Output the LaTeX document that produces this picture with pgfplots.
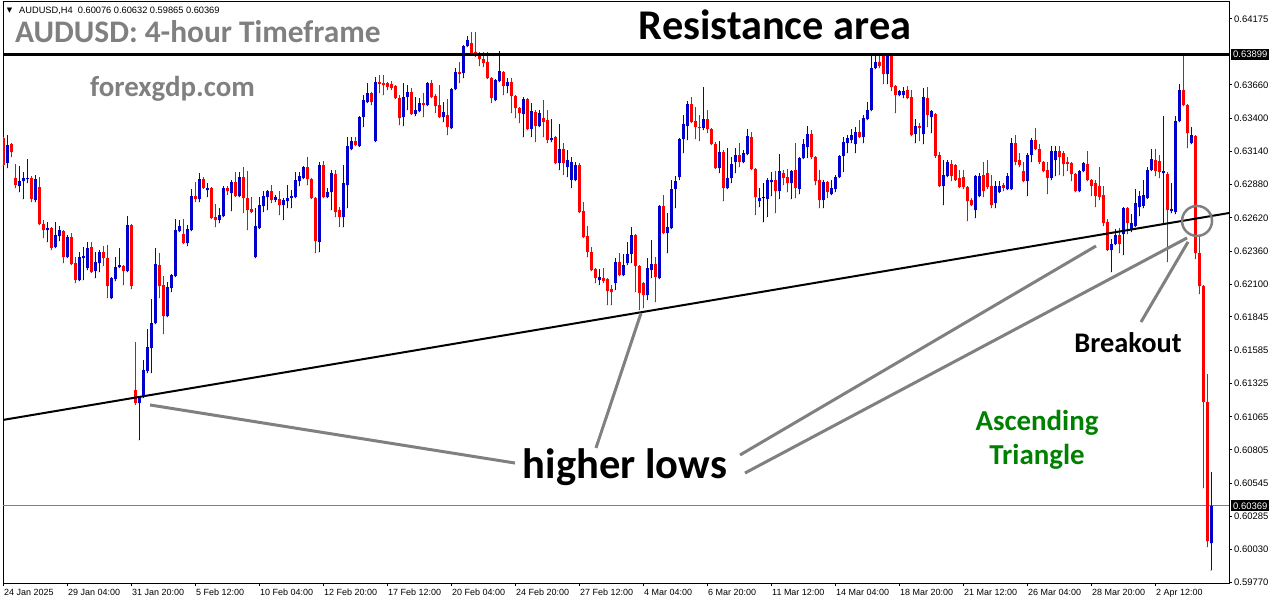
\documentclass[border=0pt]{standalone}
\usepackage{fontspec}
\setmainfont{Liberation Sans}
\newfontfamily\carl{Carlito}
\newfontfamily\dejavu{DejaVu Sans}
\usepackage{pgfplots}
\usepackage{pgfplotstable}
\pgfplotsset{compat=1.18}

\definecolor{candleblue}{RGB}{0,0,205}
\definecolor{candlered}{RGB}{255,0,0}
\definecolor{annot}{RGB}{128,128,128}
\definecolor{trigreen}{RGB}{0,128,0}

% AUDUSD H4 candles, bar 0 = 24 Jan 2025 12:00
\pgfplotstableread{
x o h l c
0 0.63245 0.63253 0.63026 0.63034
1 0.63049 0.63268 0.63010 0.63190
2 0.63198 0.63206 0.63096 0.63135
3 0.62932 0.63042 0.62854 0.62877
4 0.62870 0.63026 0.62823 0.62909
5 0.62909 0.62979 0.62768 0.62932
6 0.62924 0.63081 0.62893 0.62932
7 0.62932 0.62948 0.62744 0.62768
8 0.62760 0.62956 0.62744 0.62924
9 0.62862 0.62940 0.62565 0.62572
10 0.62572 0.62604 0.62463 0.62525
11 0.62525 0.62588 0.62432 0.62541
12 0.62541 0.62549 0.62369 0.62385
13 0.62393 0.62588 0.62385 0.62486
14 0.62479 0.62557 0.62439 0.62525
15 0.62518 0.62525 0.62267 0.62314
16 0.62314 0.62486 0.62306 0.62471
17 0.62471 0.62502 0.62252 0.62259
18 0.62267 0.62314 0.62111 0.62134
19 0.62134 0.62353 0.62126 0.62314
20 0.62306 0.62393 0.62134 0.62322
21 0.62228 0.62432 0.62213 0.62385
22 0.62393 0.62432 0.62189 0.62197
23 0.62205 0.62353 0.62150 0.62275
24 0.62267 0.62369 0.62197 0.62353
25 0.62353 0.62400 0.62244 0.62306
26 0.62306 0.62408 0.61994 0.62088
27 0.61994 0.62158 0.61986 0.62150
28 0.62142 0.62314 0.62127 0.62236
29 0.62236 0.62385 0.62228 0.62252
30 0.62244 0.62252 0.62095 0.62205
31 0.62205 0.62635 0.62197 0.62565
32 0.62565 0.62572 0.62064 0.62088
33 0.61274 0.61650 0.61157 0.61173
34 0.61173 0.61227 0.60883 0.61219
35 0.61219 0.61509 0.61211 0.61431
36 0.61423 0.61751 0.61407 0.61611
37 0.61603 0.61986 0.61407 0.61798
38 0.61798 0.62385 0.61790 0.62259
39 0.62252 0.62346 0.61994 0.62088
40 0.62095 0.62166 0.61712 0.61853
41 0.61853 0.62119 0.61845 0.62080
42 0.62072 0.62181 0.62041 0.62174
43 0.62166 0.62611 0.62158 0.62525
44 0.62518 0.62604 0.62510 0.62557
45 0.62494 0.62611 0.62416 0.62424
46 0.62424 0.62565 0.62400 0.62533
47 0.62525 0.62846 0.62518 0.62791
48 0.62791 0.62901 0.62744 0.62768
49 0.62768 0.62971 0.62744 0.62924
50 0.62924 0.62940 0.62846 0.62854
51 0.62838 0.62893 0.62783 0.62854
52 0.62854 0.62862 0.62611 0.62619
53 0.62627 0.62729 0.62549 0.62604
54 0.62604 0.62697 0.62580 0.62643
55 0.62635 0.62870 0.62627 0.62854
56 0.62854 0.62870 0.62799 0.62830
57 0.62815 0.62916 0.62674 0.62901
58 0.62901 0.62979 0.62783 0.62791
59 0.62791 0.62979 0.62783 0.62940
60 0.62940 0.63018 0.62658 0.62776
61 0.62776 0.62987 0.62525 0.62682
62 0.62690 0.62783 0.62658 0.62666
63 0.62314 0.62697 0.62306 0.62557
64 0.62541 0.62783 0.62533 0.62721
65 0.62713 0.62830 0.62666 0.62791
66 0.62783 0.62838 0.62682 0.62830
67 0.62830 0.62877 0.62737 0.62760
68 0.62760 0.62799 0.62744 0.62783
69 0.62768 0.62830 0.62643 0.62721
70 0.62721 0.62776 0.62604 0.62760
71 0.62752 0.62877 0.62697 0.62776
72 0.62776 0.62838 0.62697 0.62791
73 0.62783 0.62979 0.62776 0.62916
74 0.62909 0.62979 0.62870 0.62948
75 0.62932 0.63026 0.62924 0.63018
76 0.63018 0.63096 0.62877 0.62924
77 0.62924 0.62932 0.62768 0.62776
78 0.62776 0.62783 0.62346 0.62439
79 0.62432 0.63057 0.62353 0.63034
80 0.63034 0.63065 0.62776 0.62783
81 0.62783 0.62854 0.62776 0.62823
82 0.62823 0.62995 0.62682 0.62971
83 0.62963 0.62995 0.62627 0.62666
84 0.62682 0.62705 0.62549 0.62627
85 0.62627 0.63034 0.62549 0.62893
86 0.62877 0.63253 0.62697 0.63182
87 0.63159 0.63253 0.63151 0.63222
88 0.63222 0.63253 0.63182 0.63190
89 0.63182 0.63417 0.63175 0.63409
90 0.63409 0.63581 0.63331 0.63542
91 0.63526 0.63675 0.63519 0.63597
92 0.63597 0.63605 0.63503 0.63526
93 0.63222 0.63722 0.63214 0.63683
94 0.63683 0.63738 0.63597 0.63667
95 0.63675 0.63738 0.63581 0.63659
96 0.63675 0.63683 0.63620 0.63644
97 0.63667 0.63691 0.63620 0.63636
98 0.63652 0.63659 0.63550 0.63558
99 0.63558 0.63581 0.63347 0.63401
100 0.63409 0.63675 0.63339 0.63565
101 0.63565 0.63659 0.63464 0.63605
102 0.63605 0.63636 0.63425 0.63433
103 0.63433 0.63565 0.63417 0.63464
104 0.63456 0.63558 0.63448 0.63519
105 0.63519 0.63597 0.63409 0.63503
106 0.63503 0.63683 0.63495 0.63675
107 0.63675 0.63698 0.63558 0.63565
108 0.63573 0.63589 0.63440 0.63495
109 0.63503 0.63659 0.63401 0.63409
110 0.63409 0.63526 0.63370 0.63448
111 0.63425 0.63550 0.63268 0.63331
112 0.63323 0.63636 0.63315 0.63628
113 0.63628 0.63792 0.63620 0.63761
114 0.63761 0.63839 0.63675 0.63745
115 0.63753 0.63972 0.63714 0.63964
116 0.63964 0.64043 0.63957 0.64011
117 0.63988 0.64074 0.63902 0.63910
118 0.63917 0.64074 0.63878 0.63902
119 0.63886 0.63917 0.63808 0.63863
120 0.63863 0.63917 0.63800 0.63831
121 0.63839 0.63917 0.63706 0.63714
122 0.63714 0.63722 0.63519 0.63558
123 0.63542 0.63706 0.63534 0.63698
124 0.63691 0.63925 0.63683 0.63769
125 0.63761 0.63769 0.63581 0.63652
126 0.63652 0.63714 0.63597 0.63683
127 0.63683 0.63714 0.63440 0.63573
128 0.63573 0.63581 0.63401 0.63479
129 0.63479 0.63487 0.63362 0.63440
130 0.63433 0.63565 0.63253 0.63550
131 0.63550 0.63558 0.63307 0.63315
132 0.63315 0.63519 0.63253 0.63456
133 0.63448 0.63464 0.63214 0.63339
134 0.63339 0.63464 0.63331 0.63440
135 0.63401 0.63542 0.63253 0.63370
136 0.63386 0.63464 0.63206 0.63229
137 0.63229 0.63393 0.63214 0.63245
138 0.63253 0.63261 0.63042 0.63049
139 0.63049 0.63354 0.62995 0.63159
140 0.63159 0.63206 0.62956 0.63049
141 0.63018 0.63151 0.62940 0.63073
142 0.62916 0.63096 0.62854 0.63057
143 0.62916 0.63057 0.62909 0.63034
144 0.63034 0.63049 0.62658 0.62666
145 0.62674 0.62744 0.62463 0.62471
146 0.62479 0.62557 0.62314 0.62353
147 0.62353 0.62393 0.62205 0.62213
148 0.62220 0.62228 0.62111 0.62150
149 0.62134 0.62220 0.62095 0.62158
150 0.62150 0.62228 0.62111 0.62127
151 0.62142 0.62150 0.61939 0.62049
152 0.62064 0.62095 0.61939 0.62041
153 0.62111 0.62306 0.62056 0.62275
154 0.62275 0.62346 0.62166 0.62174
155 0.62174 0.62338 0.62166 0.62252
156 0.62267 0.62432 0.62252 0.62338
157 0.62338 0.62549 0.62267 0.62486
158 0.62486 0.62494 0.62041 0.62244
159 0.62244 0.62252 0.61900 0.62033
160 0.62111 0.62119 0.61915 0.62017
161 0.62017 0.62306 0.61978 0.62228
162 0.62213 0.62447 0.62150 0.62259
163 0.62259 0.62314 0.61962 0.62158
164 0.62150 0.62721 0.62142 0.62713
165 0.62713 0.62799 0.62494 0.62502
166 0.62502 0.62658 0.62346 0.62549
167 0.62541 0.62916 0.62533 0.62846
168 0.62846 0.62948 0.62697 0.62909
169 0.62940 0.63245 0.62916 0.63237
170 0.63237 0.63425 0.63128 0.63354
171 0.63339 0.63534 0.63229 0.63511
172 0.63511 0.63565 0.63362 0.63370
173 0.63378 0.63487 0.63237 0.63331
174 0.63331 0.63425 0.63222 0.63323
175 0.63323 0.63644 0.63307 0.63393
176 0.63393 0.63464 0.63284 0.63315
177 0.63315 0.63323 0.63190 0.63198
178 0.63198 0.63214 0.63003 0.63010
179 0.63010 0.63222 0.62971 0.63135
180 0.63135 0.63151 0.62752 0.62854
181 0.62854 0.63167 0.62846 0.62932
182 0.62932 0.63096 0.62893 0.63042
183 0.63057 0.63167 0.62971 0.63112
184 0.63112 0.63206 0.63018 0.63057
185 0.63057 0.63151 0.63049 0.63128
186 0.63120 0.63315 0.63112 0.63261
187 0.63253 0.63292 0.62995 0.63003
188 0.63003 0.63010 0.62643 0.62783
189 0.62752 0.62854 0.62705 0.62776
190 0.62776 0.62893 0.62588 0.62776
191 0.62768 0.62932 0.62627 0.62916
192 0.62901 0.62979 0.62791 0.62916
193 0.62916 0.62987 0.62658 0.62830
194 0.62830 0.63120 0.62768 0.62987
195 0.62971 0.62995 0.62877 0.62932
196 0.62940 0.63003 0.62823 0.62893
197 0.62893 0.62995 0.62768 0.62987
198 0.62995 0.63206 0.62776 0.62854
199 0.62846 0.63096 0.62807 0.63089
200 0.63089 0.63237 0.63081 0.63198
201 0.63175 0.63339 0.63089 0.63276
202 0.63276 0.63307 0.63081 0.63096
203 0.63096 0.63104 0.62877 0.62909
204 0.62916 0.62995 0.62697 0.62760
205 0.62760 0.62916 0.62697 0.62901
206 0.62901 0.62909 0.62776 0.62823
207 0.62807 0.62916 0.62799 0.62854
208 0.62846 0.62956 0.62823 0.62940
209 0.62940 0.63112 0.62932 0.63104
210 0.63104 0.63253 0.62979 0.63214
211 0.63206 0.63268 0.63128 0.63245
212 0.63229 0.63315 0.63206 0.63268
213 0.63198 0.63331 0.63128 0.63292
214 0.63292 0.63386 0.63245 0.63253
215 0.63253 0.63425 0.63206 0.63401
216 0.63393 0.63526 0.63386 0.63464
217 0.63464 0.63910 0.63456 0.63792
218 0.63792 0.63910 0.63784 0.63839
219 0.63839 0.63894 0.63792 0.63808
220 0.63886 0.63910 0.63667 0.63745
221 0.63745 0.63910 0.63667 0.63902
222 0.63894 0.63902 0.63612 0.63644
223 0.63652 0.63659 0.63440 0.63581
224 0.63581 0.63620 0.63573 0.63612
225 0.63581 0.63644 0.63558 0.63612
226 0.63620 0.63652 0.63550 0.63558
227 0.63565 0.63620 0.63261 0.63268
228 0.63276 0.63393 0.63206 0.63339
229 0.63339 0.63362 0.63222 0.63323
230 0.63276 0.63636 0.63198 0.63565
231 0.63558 0.63644 0.63331 0.63425
232 0.63409 0.63464 0.63284 0.63456
233 0.63433 0.63440 0.63089 0.63104
234 0.63112 0.63135 0.62862 0.62870
235 0.62870 0.63073 0.62721 0.62956
236 0.62948 0.63073 0.62940 0.63057
237 0.63042 0.63073 0.62909 0.62948
238 0.63034 0.63042 0.62909 0.62916
239 0.62932 0.62995 0.62854 0.62862
240 0.62940 0.62995 0.62846 0.62862
241 0.62862 0.62870 0.62596 0.62752
242 0.62760 0.62776 0.62713 0.62721
243 0.62682 0.62956 0.62619 0.62948
244 0.62791 0.62971 0.62783 0.62948
245 0.62956 0.63057 0.62783 0.62830
246 0.62971 0.63073 0.62846 0.62862
247 0.62870 0.62956 0.62697 0.62721
248 0.62737 0.62909 0.62697 0.62870
249 0.62823 0.62909 0.62815 0.62870
250 0.62877 0.62893 0.62830 0.62854
251 0.62846 0.62971 0.62838 0.62948
252 0.62846 0.63245 0.62838 0.63206
253 0.63206 0.63268 0.63034 0.63057
254 0.63073 0.63128 0.63018 0.63034
255 0.62987 0.63057 0.62901 0.62909
256 0.62909 0.63128 0.62791 0.63112
257 0.63112 0.63245 0.63057 0.63229
258 0.63229 0.63323 0.63151 0.63159
259 0.63159 0.63198 0.63042 0.63057
260 0.63057 0.63065 0.62979 0.62987
261 0.62995 0.63057 0.62807 0.62932
262 0.62932 0.63182 0.62916 0.63143
263 0.63073 0.63182 0.62948 0.63143
264 0.63143 0.63182 0.62956 0.63096
265 0.63128 0.63143 0.62948 0.63042
266 0.63057 0.63096 0.62987 0.63042
267 0.63049 0.63057 0.62909 0.62963
268 0.62963 0.62971 0.62823 0.62830
269 0.62830 0.62995 0.62823 0.62987
270 0.62987 0.63057 0.62979 0.63049
271 0.63042 0.63143 0.62909 0.62916
272 0.62916 0.62924 0.62791 0.62870
273 0.62893 0.62916 0.62705 0.62791
274 0.62870 0.63018 0.62760 0.62783
275 0.62799 0.62870 0.62557 0.62580
276 0.62588 0.62611 0.62362 0.62369
277 0.62369 0.62455 0.62197 0.62416
278 0.62416 0.62533 0.62408 0.62486
279 0.62486 0.62541 0.62346 0.62416
280 0.62494 0.62705 0.62330 0.62697
281 0.62697 0.62705 0.62494 0.62580
282 0.62525 0.62651 0.62510 0.62580
283 0.62557 0.62846 0.62549 0.62737
284 0.62705 0.62830 0.62635 0.62791
285 0.62713 0.62916 0.62697 0.62799
286 0.62776 0.63018 0.62768 0.62995
287 0.62995 0.63159 0.62987 0.63081
288 0.63073 0.63159 0.62948 0.62987
289 0.63065 0.63112 0.62932 0.62979
290 0.62971 0.63417 0.62572 0.62987
291 0.62963 0.62979 0.62275 0.62682
292 0.62674 0.62893 0.62658 0.62690
293 0.62666 0.63417 0.62651 0.63378
294 0.63378 0.63667 0.63370 0.63620
295 0.63620 0.63894 0.63495 0.63503
296 0.63503 0.63511 0.63167 0.63284
297 0.63206 0.63331 0.63198 0.63268
298 0.63261 0.63268 0.62299 0.62346
299 0.62346 0.62471 0.62025 0.62088
300 0.62088 0.62096 0.60508 0.61180
301 0.61180 0.61399 0.60047 0.60093
302 0.60076 0.60632 0.59865 0.60369
}\candles

\pgfplotsset{
  stick/.style 2 args={only marks, mark=*, mark size=0.1pt,
    mark options={draw=none, fill=none}, color=#1,
    error bars/y dir=plus, error bars/y explicit, error bars/error mark=none,
    error bars/error bar style={line width=#2, solid}},
  up/.style={x filter/.expression={\thisrow{c}>\thisrow{o} ? x : nan}},
  down/.style={x filter/.expression={\thisrow{c}<\thisrow{o} ? x : nan}},
  flat/.style={x filter/.expression={abs(\thisrow{c}-\thisrow{o})<0.000001 ? x : nan}},
}

\begin{document}
\begin{tikzpicture}
\path[use as bounding box] (0,0) rectangle (1276bp,604bp);

\begin{axis}[
  at={(3bp,21bp)}, anchor=south west,
  width=1226bp, height=581bp, scale only axis,
  xmin=0, xmax=306.5,
  ymin=0.59765, ymax=0.64308,
  clip mode=individual,
  axis line style={line width=1bp},
  tick align=outside, major tick length=3bp,
  tick style={line width=1bp, black},
  xtick pos=bottom, ytick pos=right, yticklabel pos=right,
  xtick={0,16,...,288},
  xticklabels={24 Jan 2025, 29 Jan 04:00, 31 Jan 20:00, 5 Feb 12:00, 10 Feb 04:00, 12 Feb 20:00, 17 Feb 12:00, 20 Feb 04:00, 24 Feb 20:00, 27 Feb 12:00, 4 Mar 04:00, 6 Mar 20:00, 11 Mar 12:00, 14 Mar 04:00, 18 Mar 20:00, 21 Mar 12:00, 26 Mar 04:00, 28 Mar 20:00, 2 Apr 12:00},
  ytick={0.59770,0.60030,0.60285,0.60545,0.60805,0.61065,0.61325,0.61585,0.61845,0.62100,0.62360,0.62620,0.62880,0.63140,0.63400,0.63660,0.64175},
  yticklabels={0.59770,0.60030,0.60285,0.60545,0.60805,0.61065,0.61325,0.61585,0.61845,0.62100,0.62360,0.62620,0.62880,0.63140,0.63400,0.63660,0.64175},
  xticklabel style={font=\fontsize{9}{10}\selectfont, anchor=north west, inner sep=0pt, xshift=1bp, yshift=-3bp},
  yticklabel style={font=\fontsize{9.5}{10}\selectfont, anchor=west, inner sep=0pt, xshift=2bp},
]

% bid line
\addplot[annot, line width=0.8bp] coordinates {(0,0.60369) (306.5,0.60369)};

% wicks
\addplot[up, stick={candleblue}{1bp}]
  table[x=x, y=l, y error plus expr=\thisrow{h}-\thisrow{l}] {\candles};
\addplot[down, stick={candlered}{1bp}]
  table[x=x, y=l, y error plus expr=\thisrow{h}-\thisrow{l}] {\candles};
\addplot[flat, stick={black}{1bp}]
  table[x=x, y=l, y error plus expr=\thisrow{h}-\thisrow{l}] {\candles};
% bodies
\addplot[up, stick={candleblue}{3bp}]
  table[x=x, y=o, y error plus expr=\thisrow{c}-\thisrow{o}] {\candles};
\addplot[down, stick={candlered}{3bp}]
  table[x=x, y=c, y error plus expr=\thisrow{o}-\thisrow{c}] {\candles};
\addplot[flat, stick={black}{3bp}]
  table[x=x, y=o, y error plus expr=0.00008] {\candles};

% resistance and rising trendline
\addplot[black, line width=3bp] coordinates {(0,0.63899) (306.5,0.63899)};
\addplot[black, line width=2bp] coordinates {(0,0.61040) (306.5,0.62658)};

% pointers
\addplot[annot, line width=3bp] coordinates {(36.75,0.61157) (128,0.60703)};
\addplot[annot, line width=3bp] coordinates {(148.25,0.60821) (159.5,0.61876)};
\addplot[annot, line width=3bp] coordinates {(184.25,0.60766) (273.25,0.62400)};
\addplot[annot, line width=3bp] coordinates {(185.5,0.60625) (296,0.62463)};
\addplot[annot, line width=3bp] coordinates {(284.5,0.61806) (296.25,0.62432)};
\draw[annot, line width=2.5bp] (axis cs:298.5,0.62596) circle[radius=15bp];

% price boxes on the scale
\node[anchor=west, fill=black, text=white, inner sep=2bp, xshift=2bp,
  font=\fontsize{9.5}{10}\selectfont] at (axis cs:306.5,0.63899) {0.63899};
\node[anchor=west, fill=black, text=white, inner sep=2bp, xshift=2bp,
  font=\fontsize{9.5}{10}\selectfont] at (axis cs:306.5,0.60369) {0.60369};
\end{axis}

% header and annotations
\node[anchor=center, inner sep=0, font=\dejavu\fontsize{7}{7}\selectfont] at (9.5bp,593bp) {▼};
\node[anchor=base west, inner sep=0, font=\fontsize{9.3}{10}\selectfont] at (19bp,590bp)
  {AUDUSD,H4\ \ 0.60076 0.60632 0.59865 0.60369};
\node[anchor=base west, inner sep=0, text=annot, font=\carl\bfseries\fontsize{31.5}{32}\selectfont]
  at (15bp,561bp) {AUDUSD: 4-hour Timeframe};
\node[anchor=base west, inner sep=0, text=annot, font=\carl\bfseries\fontsize{29}{30}\selectfont]
  at (90bp,507bp) {forexgdp.com};
\node[anchor=base, inner sep=0, font=\carl\bfseries\fontsize{42.5}{43}\selectfont]
  at (775bp,564bp) {Resistance area};
\node[anchor=base, inner sep=0, font=\carl\bfseries\fontsize{42.7}{43}\selectfont]
  at (625bp,125bp) {higher lows};
\node[anchor=base, inner sep=0, font=\carl\bfseries\fontsize{28.5}{29}\selectfont]
  at (1128bp,251bp) {Breakout};
\node[anchor=base, inner sep=0, text=trigreen, font=\carl\bfseries\fontsize{29}{30}\selectfont]
  at (1037bp,173bp) {Ascending};
\node[anchor=base, inner sep=0, text=trigreen, font=\carl\bfseries\fontsize{29}{30}\selectfont]
  at (1037bp,139bp) {Triangle};
\end{tikzpicture}
\end{document}
